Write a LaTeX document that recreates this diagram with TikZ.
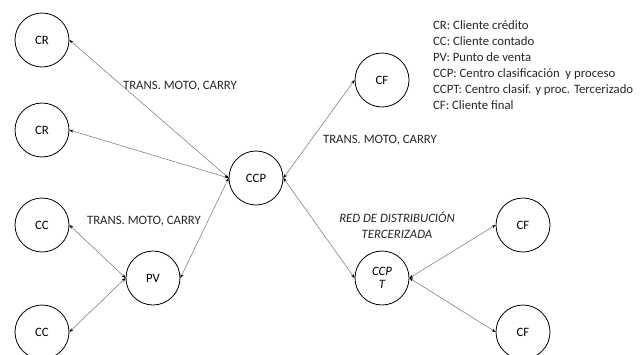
\documentclass[tikz,border=0pt]{standalone}
\usepackage{fontspec}
\setmainfont{Carlito}
\usetikzlibrary{arrows.meta}
\begin{document}
\begin{tikzpicture}[x=1pt,y=-1pt,
  place/.style={circle,draw=black,line width=0.8pt,minimum size=54pt,inner sep=0pt,font=\fontsize{12.75}{13}\selectfont,align=center},
  link/.style={draw=black!55,line width=0.5pt,{Stealth[length=4pt,width=3pt,color=black]}-{Stealth[length=4pt,width=3pt,color=black]}},
  tag/.style={font=\fontsize{12.75}{14}\selectfont,text=black!85,inner sep=0pt},
  legend/.style={font=\fontsize{12.75}{16}\selectfont,align=left,anchor=north west,inner sep=0pt,text=black!85}]
\clip (0,0) rectangle (643,354);
\useasboundingbox (0,0) rectangle (643,354);
% nodes
\node[place] (cr1) at (42,40) {CR};
\node[place] (cr2) at (42,130) {CR};
\node[place] (ccp) at (256,178) {CCP};
\node[place] (cf0) at (382,80) {CF};
\node[place] (cc1) at (42,225) {CC};
\node[place] (pv) at (153,278) {PV};
\node[place] (cc2) at (42,332) {CC};
\node[place] (ccpt) at (382,278) {\itshape CCP\\[0pt]\itshape T};
\node[place] (cf1) at (523,225) {CF};
\node[place] (cf2) at (523,332) {CF};
% connectors
\draw[link] (cr1.east) -- (ccp.west);
\draw[link] (cr2.east) -- (ccp.west);
\draw[link] (pv.east) -- (ccp.west);
\draw[link] (cc1.east) -- (pv.west);
\draw[link] (cc2.east) -- (pv.west);
\draw[link] (ccp.east) -- (cf0.west);
\draw[link] (ccp.east) -- (ccpt.west);
\draw[link] (ccpt.east) -- (cf1.west);
\draw[link] (ccpt.east) -- (cf2.west);
% labels
\node[tag] (t1) at (180,86) {TRANS. MOTO, CARRY};
\node[tag] (t2) at (380,140) {TRANS. MOTO, CARRY};
\node[tag] (t3) at (144,221) {TRANS. MOTO, CARRY};
\node[tag,align=center,font=\fontsize{12.75}{16}\selectfont\itshape] (red) at (397,225) {RED DE DISTRIBUCIÓN\\TERCERIZADA};
% legend
\node[legend] (key) at (433,20) {CR: Cliente crédito\\CC: Cliente contado\\PV: Punto de venta\\CCP: Centro clasificación~ y proceso\\CCPT: Centro clasif. y proc. Tercerizado\\CF: Cliente final};
\end{tikzpicture}
\end{document}
